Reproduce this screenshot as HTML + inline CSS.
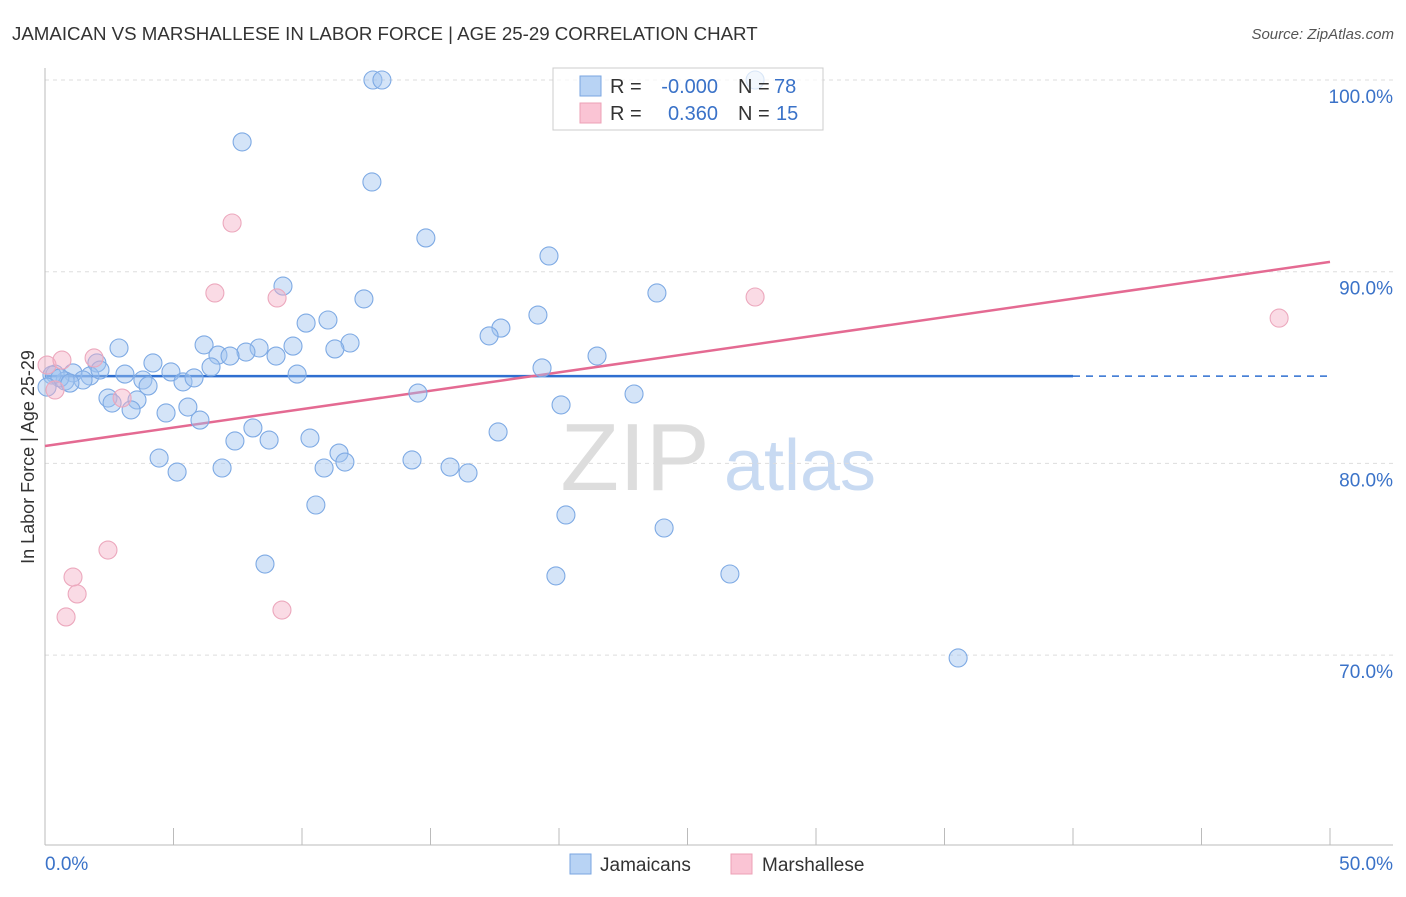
<!DOCTYPE html>
<html><head><meta charset="utf-8"><style>
body{margin:0;background:#fff;font-family:"Liberation Sans",sans-serif;}
svg text{font-family:"Liberation Sans",sans-serif;}
</style></head><body>
<svg id="chart" width="1406" height="892" xmlns="http://www.w3.org/2000/svg">
<text x="12" y="40" font-size="18.7" fill="#333">JAMAICAN VS MARSHALLESE IN LABOR FORCE | AGE 25-29 CORRELATION CHART</text>
<text x="1394" y="39" font-size="15" fill="#555" font-style="italic" text-anchor="end">Source: ZipAtlas.com</text>
<text transform="translate(34,457) rotate(-90)" font-size="18" fill="#333" text-anchor="middle">In Labor Force | Age 25-29</text>
<g><text x="635" y="490" font-size="96" fill="#ddd" text-anchor="middle" font-family="Liberation Serif,serif">ZIP</text><text x="800" y="490" font-size="72" fill="#c8daf2" text-anchor="middle">atlas</text></g>
<g id="grid"></g><g id="axes"></g><g id="lines"></g><g id="pts"></g>
<g>
<rect x="553" y="68" width="270" height="62" fill="rgba(255,255,255,0.7)" stroke="#ccc"/>
<rect x="580" y="76" width="21" height="20" fill="#b8d3f4" stroke="#7aa6e0"/>
<rect x="580" y="103" width="21" height="20" fill="#fac4d4" stroke="#eca0b6"/>
<text x="610" y="93" font-size="20" fill="#333">R = </text><text x="718" y="93" font-size="20" fill="#3a72c8" text-anchor="end">-0.000</text>
<text x="738" y="93" font-size="20" fill="#333">N = </text><text x="774" y="93" font-size="20" fill="#3a72c8">78</text>
<text x="610" y="120" font-size="20" fill="#333">R = </text><text x="718" y="120" font-size="20" fill="#3a72c8" text-anchor="end">0.360</text>
<text x="738" y="120" font-size="20" fill="#333">N = </text><text x="776" y="120" font-size="20" fill="#3a72c8">15</text>
</g>
<g>
<rect x="570" y="854" width="21" height="20" fill="#b8d3f4" stroke="#7aa6e0"/><text x="600" y="871" font-size="19" fill="#333">Jamaicans</text>
<rect x="731" y="854" width="21" height="20" fill="#fac4d4" stroke="#eca0b6"/><text x="762" y="871" font-size="19" fill="#333">Marshallese</text>
</g>
<text x="45" y="870" font-size="19" fill="#3a72c8">0.0%</text>
<text x="1393" y="870" font-size="19" fill="#3a72c8" text-anchor="end">50.0%</text>
</svg>
<script>
const yTicks=[100,90,80,70];
const yTickLabels=["100.0%","90.0%","80.0%","70.0%"];
const jamX=[12.76,13.11,27.63,7.67,12.72,14.82,19.61,9.26,12.41,23.81,10.16,11.01,19.18,17.74,17.28,2.88,6.19,11.87,9.65,11.28,8.33,7.82,6.73,7.20,8.99,21.48,4.20,2.02,4.90,6.46,19.34,3.11,9.81,0.39,1.09,1.75,0.78,1.48,3.81,5.37,5.80,4.01,2.45,2.61,3.58,3.35,4.71,5.56,14.51,22.92,20.08,6.03,8.09,7.39,8.72,10.31,17.63,11.44,4.44,11.67,10.86,14.28,15.76,16.46,6.89,5.14,10.54,20.27,24.09,8.56,19.88,26.65,35.53,0.27,0.58,0.97,2.14,0.08];
const jamY=[100.0,100.0,100.0,96.77,94.68,91.76,90.82,89.25,88.58,88.89,87.32,87.48,87.74,87.06,86.65,86.02,86.18,86.28,86.12,85.97,86.02,85.81,85.65,85.60,85.60,85.60,85.24,85.24,84.77,85.03,84.98,84.66,84.66,84.66,84.72,84.56,84.30,84.35,84.35,84.25,84.46,84.04,83.41,83.15,83.31,82.79,82.63,82.94,83.67,83.62,83.05,82.26,81.85,81.17,81.22,81.32,81.64,80.54,80.28,80.07,79.76,80.18,79.81,79.50,79.76,79.55,77.83,77.31,76.63,74.75,74.13,74.23,69.85,84.61,84.46,84.19,84.87,83.98];
const marX=[0.08,0.66,0.39,1.91,3.00,7.28,6.61,9.03,27.63,48.02,2.45,1.09,1.25,0.82,9.22];
const marY=[85.13,85.39,83.83,85.50,83.41,92.54,88.89,88.63,88.68,87.58,75.48,74.07,73.19,71.99,72.35];
const jamTrend=[84.55,84.55];
const marTrend=[80.91,90.51];
const NS="http://www.w3.org/2000/svg";
const X=v=>45+v*25.7, Y=v=>80+(100-v)*19.17;
function mk(t,a,p){const e=document.createElementNS(NS,t);for(const k in a)e.setAttribute(k,a[k]);document.getElementById(p).appendChild(e);return e;}
yTicks.forEach((t,i)=>{
 const l=mk('line',{x1:45,x2:1393,y1:Y(t),y2:Y(t),stroke:'#ddd','stroke-dasharray':'4,4'},'grid');
 
 
 const tx=mk('text',{x:1393,y:Y(t)+23,'font-size':19,fill:'#3a72c8','text-anchor':'end'},'grid');tx.textContent=yTickLabels[i];
 
 
});
let a=mk('line',{x1:45,x2:45,y1:68,y2:845,stroke:'#bbb'},'axes');


a=mk('line',{x1:45,x2:1393,y1:845,y2:845,stroke:'#bbb'},'axes');


for(let i=0;i<=10;i++){const t=mk('line',{x1:X(i*5),x2:X(i*5),y1:828,y2:845,stroke:'#bbb'},'axes');
 
 }
let ln=mk('line',{x1:X(0),x2:X(40),y1:Y(jamTrend[0]),y2:Y(jamTrend[0]+(jamTrend[1]-jamTrend[0])*0.8),stroke:'#2f6fd0','stroke-width':2.5},'lines');


ln=mk('line',{x1:X(40),x2:X(50),y1:Y(jamTrend[0]),y2:Y(jamTrend[1]),stroke:'#2f6fd0','stroke-width':1.5,'stroke-dasharray':'7,6'},'lines');


ln=mk('line',{x1:X(0),x2:X(50),y1:Y(marTrend[0]),y2:Y(marTrend[1]),stroke:'#e46a92','stroke-width':2.5},'lines');


jamX.forEach((v,i)=>{const c=mk('circle',{cx:X(v),cy:Y(jamY[i]),r:9,fill:'rgba(160,196,240,0.45)',stroke:'#7eaae4','stroke-width':1.1},'pts');
 
 });
marX.forEach((v,i)=>{const c=mk('circle',{cx:X(v),cy:Y(marY[i]),r:9,fill:'rgba(245,175,198,0.45)',stroke:'#eca8bd','stroke-width':1.1},'pts');
 
 });
</script>
</body></html>
